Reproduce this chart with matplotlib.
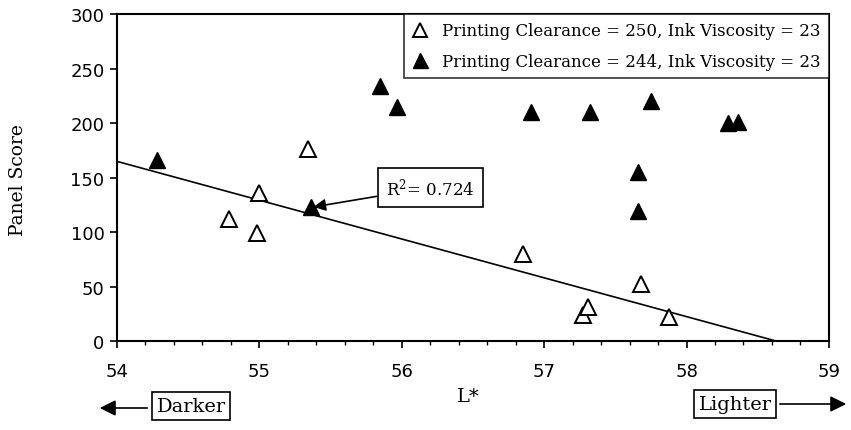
import numpy as np
import matplotlib
matplotlib.use('Agg')
import matplotlib.pyplot as plt
from matplotlib.ticker import MultipleLocator

# data
l_250 = [54.79, 54.98, 55.00, 55.34, 56.85, 57.27, 57.31, 57.68, 57.88]
score_250 = [112, 99, 136, 176, 80, 24, 31, 52, 22]
l_244 = [54.28, 55.36, 55.85, 55.97, 56.91, 57.32, 57.75, 58.29, 58.36, 57.66, 57.66]
score_244 = [166, 123, 234, 215, 210, 210, 220, 200, 201, 155, 119]
lab_250 = 'Printing Clearance = 250, Ink Viscosity = 23'
lab_244 = 'Printing Clearance = 244, Ink Viscosity = 23'

plt.rcParams['font.family'] = 'DejaVu Serif'
plt.rcParams['mathtext.fontset'] = 'dejavuserif'

fig = plt.figure(figsize=(8.51, 4.31), dpi=100)
ax = fig.add_axes([0.1375, 0.2065, 0.974 - 0.1375, 0.965 - 0.2065])

# regression on the open triangles, drawn down to the x axis
slope, icpt = np.polyfit(l_250, score_250, 1)
x_end = -icpt / slope
xs = np.array([54, x_end])
ax.plot(xs, icpt + slope * xs, color='black', lw=1.2, zorder=2)

ax.plot(l_250, score_250, linestyle='none', marker='^', ms=11, mfc='white',
        mec='black', mew=1.4, label=lab_250, zorder=3)
ax.plot(l_244, score_244, linestyle='none', marker='^', ms=12, mfc='black',
        mec='black', label=lab_244, zorder=3)

ax.set_xlim(54, 59)
ax.set_ylim(0, 300)
ax.xaxis.set_major_locator(MultipleLocator(1))
ax.xaxis.set_minor_locator(MultipleLocator(0.2))
ax.yaxis.set_major_locator(MultipleLocator(50))
ax.tick_params(axis='both', which='major', direction='out', length=5, width=1.2,
               labelsize=13, pad=4)
ax.tick_params(axis='x', which='minor', direction='out', length=3, width=1.0)
ax.tick_params(axis='x', pad=10)
for lbl in ax.get_xticklabels() + ax.get_yticklabels():
    lbl.set_family('DejaVu Sans')
for sp in ax.spines.values():
    sp.set_linewidth(1.5)

leg = ax.legend(loc='upper right', borderaxespad=0, fancybox=False,
                edgecolor='black', fontsize=12, handletextpad=0.8,
                handlelength=1.0, borderpad=0.5, labelspacing=0.8,
                markerscale=0.9)
leg.get_frame().set_linewidth(1.2)

ax.annotate(r'R$^2$= 0.724', xy=(55.38, 123), xytext=(56.2, 141),
            fontsize=12, ha='center', va='center',
            bbox=dict(boxstyle='square,pad=0.5', fc='white', ec='black', lw=1.2),
            arrowprops=dict(arrowstyle='-|>', color='black', lw=1.2,
                            mutation_scale=18, shrinkA=0, shrinkB=0))

fig.text(18 / 851, 1 - 180 / 431, 'Panel Score', rotation=90, fontsize=13.5,
         ha='center', va='center')
fig.text(468 / 851, 1 - 397 / 431, 'L*', fontsize=14, ha='center', va='center')

# darker / lighter boxes with arrows
bb = dict(boxstyle='square,pad=0.25', fc='white', ec='black', lw=1.2)
fig.text(191 / 851, 1 - 407 / 431, 'Darker', fontsize=14, ha='center',
         va='center', bbox=bb)
fig.text(735 / 851, 1 - 405 / 431, 'Lighter', fontsize=14, ha='center',
         va='center', bbox=bb)
fig.patches.append(matplotlib.patches.FancyArrowPatch(
    (150 / 851, 1 - 409 / 431), (97 / 851, 1 - 409 / 431),
    transform=fig.transFigure, arrowstyle='-|>', mutation_scale=24,
    color='black', lw=1.2))
fig.patches.append(matplotlib.patches.FancyArrowPatch(
    (777 / 851, 1 - 405 / 431), (849 / 851, 1 - 405 / 431),
    transform=fig.transFigure, arrowstyle='-|>', mutation_scale=24,
    color='black', lw=1.2))

fig.savefig('out.png', dpi=100)
